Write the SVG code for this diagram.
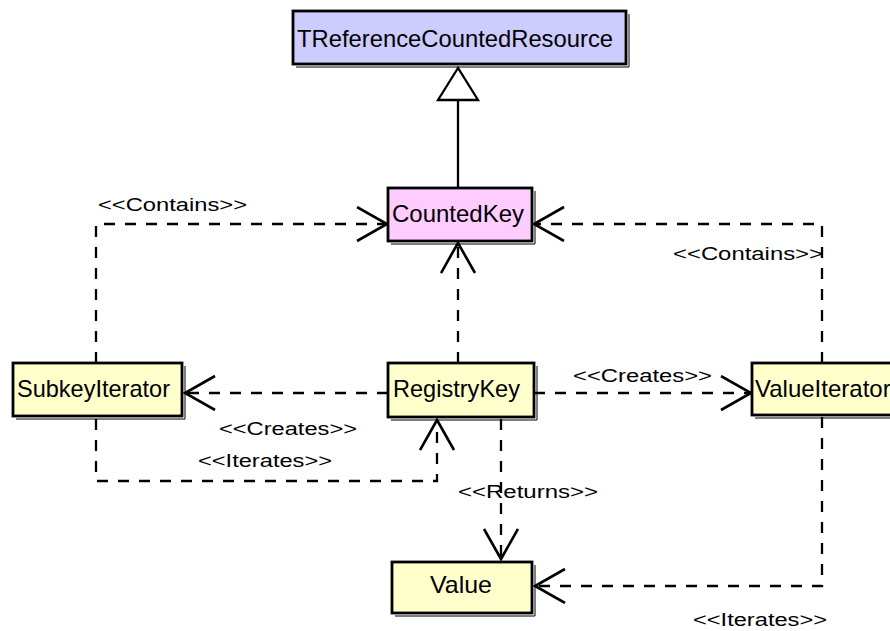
<svg xmlns="http://www.w3.org/2000/svg" width="890" height="631" viewBox="0 0 890 631">
  <style>
    .box { stroke: #000; stroke-width: 2.8; }
    .shadow { fill: none; stroke: #000; stroke-width: 1; }
    .name { font-family: "Liberation Sans", Arial, sans-serif; font-size: 24px; fill: #000; }
    .lbl { font-family: "Liberation Sans", Arial, sans-serif; font-size: 24px; fill: #000; }
    .dep { fill: none; stroke: #000; stroke-width: 2.3; stroke-dasharray: 11 10; marker-end: url(#open); }
    .solid { fill: none; stroke: #000; stroke-width: 2.3; }
  </style>
  <defs>
    <marker id="open" markerUnits="userSpaceOnUse" markerWidth="40" markerHeight="40" refX="32" refY="18" orient="auto">
      <path d="M2,1 L32,18 L2,35" fill="none" stroke="#000" stroke-width="2.6"/>
    </marker>
  </defs>

  <!-- connectors -->
  <g id="connectors">
    <!-- generalization CountedKey -> TReferenceCountedResource -->
    <line class="solid" x1="458" y1="100" x2="458" y2="188"/>
    <polygon points="458,68 438,100 478,100" fill="#fff" stroke="#000" stroke-width="2.3"/>
    <!-- SubkeyIterator contains CountedKey -->
    <path class="dep" d="M96,363 V224 H387"/>
    <!-- ValueIterator contains CountedKey -->
    <path class="dep" d="M822,363 V224 H534"/>
    <!-- RegistryKey uses CountedKey -->
    <path class="dep" d="M458,363 V243"/>
    <!-- RegistryKey creates SubkeyIterator -->
    <path class="dep" d="M388,393 H185"/>
    <!-- SubkeyIterator iterates RegistryKey -->
    <path class="dep" d="M96,419 V481 H437 V420"/>
    <!-- RegistryKey creates ValueIterator -->
    <path class="dep" d="M534,393 H751"/>
    <!-- RegistryKey returns Value -->
    <path class="dep" d="M501,419 V559"/>
    <!-- ValueIterator iterates Value -->
    <path class="dep" d="M822,417 V586 H535"/>

    <!-- stereotype labels: full-width glyphs, squashed vertically -->
    <text class="lbl" transform="translate(98,211) scale(1,0.78)" textLength="149" lengthAdjust="spacingAndGlyphs">&lt;&lt;Contains&gt;&gt;</text>
    <text class="lbl" transform="translate(673,260) scale(1,0.78)" textLength="150" lengthAdjust="spacingAndGlyphs">&lt;&lt;Contains&gt;&gt;</text>
    <text class="lbl" transform="translate(573,382) scale(1,0.78)" textLength="139" lengthAdjust="spacingAndGlyphs">&lt;&lt;Creates&gt;&gt;</text>
    <text class="lbl" transform="translate(219,435) scale(1,0.78)" textLength="138" lengthAdjust="spacingAndGlyphs">&lt;&lt;Creates&gt;&gt;</text>
    <text class="lbl" transform="translate(198,467) scale(1,0.78)" textLength="134" lengthAdjust="spacingAndGlyphs">&lt;&lt;Iterates&gt;&gt;</text>
    <text class="lbl" transform="translate(458,498) scale(1,0.78)" textLength="140" lengthAdjust="spacingAndGlyphs">&lt;&lt;Returns&gt;&gt;</text>
    <text class="lbl" transform="translate(693,626) scale(1,0.78)" textLength="134" lengthAdjust="spacingAndGlyphs">&lt;&lt;Iterates&gt;&gt;</text>
  </g>

  <!-- classes -->
  <g id="TReferenceCountedResource">
    <rect class="box" x="293" y="11" width="333" height="53" fill="#ccccff"/>
    <polyline class="shadow" points="296,67 629,67 629,14"/>
    <text class="name" x="297" y="47" textLength="316" lengthAdjust="spacingAndGlyphs">TReferenceCountedResource</text>
  </g>
  <g id="CountedKey">
    <rect class="box" x="388" y="188" width="144" height="53" fill="#ffccff"/>
    <polyline class="shadow" points="391,244 535,244 535,191"/>
    <text class="name" x="392" y="222" textLength="132" lengthAdjust="spacingAndGlyphs">CountedKey</text>
  </g>
  <g id="SubkeyIterator">
    <rect class="box" x="13" y="363" width="169" height="53" fill="#ffffcc"/>
    <polyline class="shadow" points="16,419 185,419 185,366"/>
    <text class="name" x="17" y="397" textLength="153" lengthAdjust="spacingAndGlyphs">SubkeyIterator</text>
  </g>
  <g id="RegistryKey">
    <rect class="box" x="388" y="363" width="146" height="54" fill="#ffffcc"/>
    <polyline class="shadow" points="391,420 537,420 537,366"/>
    <text class="name" x="393" y="397" textLength="127" lengthAdjust="spacingAndGlyphs">RegistryKey</text>
  </g>
  <g id="ValueIterator">
    <rect class="box" x="752" y="363" width="160" height="52" fill="#ffffcc"/>
    <polyline class="shadow" points="755,418 915,418"/>
    <text class="name" x="755" y="397">ValueIterator</text>
  </g>
  <g id="Value">
    <rect class="box" x="392" y="562" width="140" height="51" fill="#ffffcc"/>
    <polyline class="shadow" points="395,616 535,616 535,565"/>
    <text class="name" x="430" y="593" textLength="62" lengthAdjust="spacingAndGlyphs">Value</text>
  </g>
</svg>
